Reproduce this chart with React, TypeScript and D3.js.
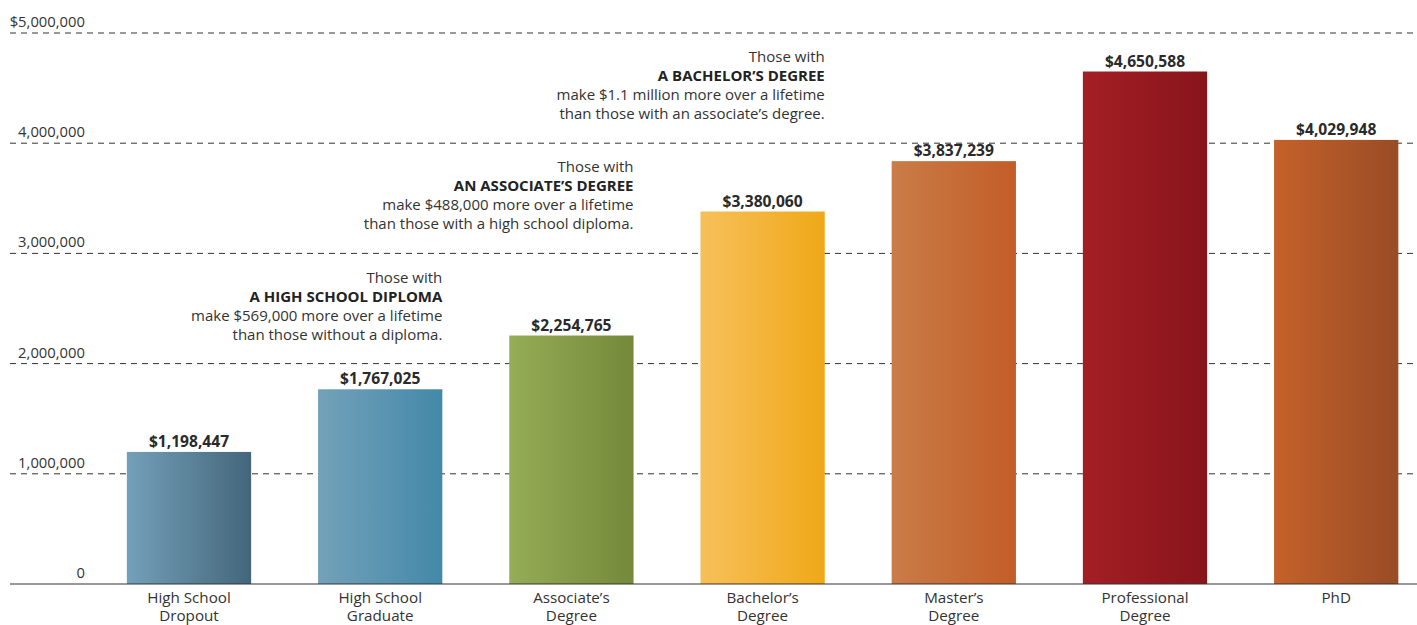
import React from 'react';
import * as d3 from 'd3';

const categories = [
    ['High School', 'Dropout'],
    ['High School', 'Graduate'],
    ['Associate\u2019s', 'Degree'],
    ['Bachelor\u2019s', 'Degree'],
    ['Master\u2019s', 'Degree'],
    ['Professional', 'Degree'],
    ['PhD'],
];
const earnings = [1198447, 1767025, 2254765, 3380060, 3837239, 4650588, 4029948];
const barColors = [
    ['#74a0b9', '#43667b'],
    ['#74a1ba', '#4389a8'],
    ['#95ad56', '#75883b'],
    ['#f6c05a', '#f0a818'],
    ['#ca7c48', '#c35d27'],
    ['#a31f25', '#88141b'],
    ['#c5612a', '#994c25'],
];
const yTicks = [0, 1000000, 2000000, 3000000, 4000000, 5000000];
const yTickLabels = ['0', '1,000,000', '2,000,000', '3,000,000', '4,000,000', '$5,000,000'];

// annotation: sits at the right edge of bar `bar`, last line just above gridline `level`
const notes = [
    { bar: 1, level: 2000000, lines: ['Those with', 'A HIGH SCHOOL DIPLOMA', 'make $569,000 more over a lifetime', 'than those without a diploma.'] },
    { bar: 2, level: 3000000, lines: ['Those with', 'AN ASSOCIATE\u2019S DEGREE', 'make $488,000 more over a lifetime', 'than those with a high school diploma.'] },
    { bar: 3, level: 4000000, lines: ['Those with', 'A BACHELOR\u2019S DEGREE', 'make $1.1 million more over a lifetime', 'than those with an associate\u2019s degree.'] },
];

const W = 1417;
const H = 625;
const FONT = '"Open Sans", "Noto Sans", sans-serif';

export default function App() {
    const x = d3.scaleBand()
        .domain(d3.range(categories.length).map(String))
        .range([93.4, 93.4 + 7 * 191.2])
        .paddingInner(0.35)
        .paddingOuter(0.175);

    const y = d3.scaleLinear()
        .domain([0, 5000000])
        .range([584, 33]);

    const fmt = (v) => '$' + d3.format(',')(v);

    return (
        <div style={{ position: 'absolute', left: 0, top: 0 }}>
            <svg width={W} height={H} style={{ display: 'block', fontFamily: FONT }}>
                <defs>
                    {barColors.map((c, i) => (
                        <linearGradient key={i} id={`g${i}`} x1="0" x2="1" y1="0" y2="0">
                            <stop offset="0%" stopColor={c[0]} />
                            <stop offset="100%" stopColor={c[1]} />
                        </linearGradient>
                    ))}
                </defs>

                {yTicks.map((t, i) => (
                    <g key={t}>
                        {t !== 0 && (
                            <line x1={10} x2={W} y1={y(t)} y2={y(t)}
                                stroke="#333" strokeWidth={1} strokeDasharray="6,5" />
                        )}
                        <text x={85} y={y(t) - 6} textAnchor="end" fontSize={14.8} fill="#333">
                            {yTickLabels[i]}
                        </text>
                    </g>
                ))}

                {earnings.map((v, i) => (
                    <g key={i}>
                        <rect x={x(String(i))} y={y(v)} width={x.bandwidth()} height={y(0) - y(v)}
                            fill={`url(#g${i})`} />
                        <text x={x(String(i)) + x.bandwidth() / 2} y={y(v) - 5} textAnchor="middle"
                            fontSize={15.6} fontWeight="bold" fill="#2a2a2a">
                            {fmt(v)}
                        </text>
                        {categories[i].map((l, j) => (
                            <text key={j} x={x(String(i)) + x.bandwidth() / 2} y={603 + j * 18}
                                textAnchor="middle" fontSize={15.2} fill="#333">
                                {l}
                            </text>
                        ))}
                    </g>
                ))}

                <line x1={10} x2={W} y1={y(0)} y2={y(0)} stroke="#333" strokeWidth={1.2} />

                {notes.map((n, i) => {
                    const xr = x(String(n.bar)) + x.bandwidth();
                    const base = y(n.level) - 24 - (n.lines.length - 1) * 19;
                    return (
                        <g key={i}>
                            {n.lines.map((l, j) => (
                                <text key={j} x={xr} y={base + j * 19} textAnchor="end" fontSize={15}
                                    fontWeight={j === 1 ? 'bold' : 'normal'}
                                    fill={j === 1 ? '#222' : '#333'}>
                                    {l}
                                </text>
                            ))}
                        </g>
                    );
                })}
            </svg>
        </div>
    );
}
